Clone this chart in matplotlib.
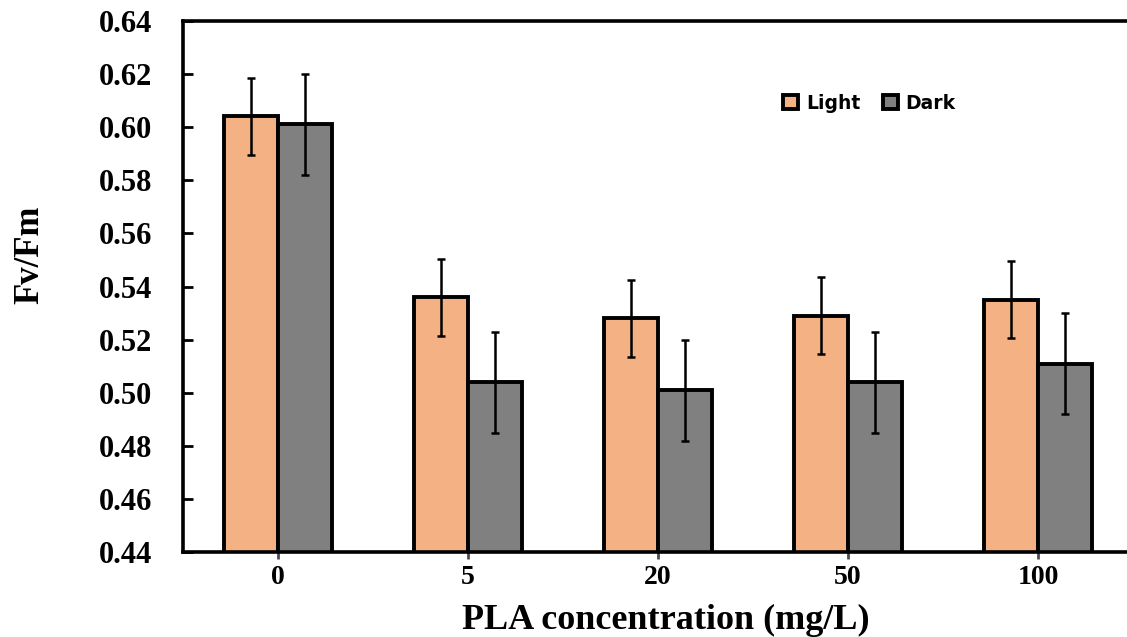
import numpy as np
import matplotlib
matplotlib.use('Agg')
import matplotlib.pyplot as plt

# 数据
concentrations = ['0', '5', '20', '50', '100']
light_mean = [0.604, 0.536, 0.528, 0.529, 0.535]
light_err = [0.0145, 0.0145, 0.0145, 0.0145, 0.0145]
dark_mean = [0.601, 0.504, 0.501, 0.504, 0.511]
dark_err = [0.019, 0.019, 0.019, 0.019, 0.019]

light_color = '#F4B183'
dark_color = '#808080'
bar_w = 0.284

fig = plt.figure(figsize=(11.27, 6.37), dpi=100)
ax = fig.add_axes([0.1624, 0.1327, 0.843, 0.835])

x = np.arange(len(concentrations))

# 画柱状图
ax.bar(x - bar_w / 2, light_mean, bar_w, color=light_color, edgecolor='black',
       linewidth=2.8, label='Light', zorder=2)
ax.bar(x + bar_w / 2, dark_mean, bar_w, color=dark_color, edgecolor='black',
       linewidth=2.8, label='Dark', zorder=2)

# 误差线
ax.errorbar(x - bar_w / 2, light_mean, yerr=light_err, fmt='none', ecolor='black',
            elinewidth=1.8, capsize=3, capthick=1.8, zorder=3)
ax.errorbar(x + bar_w / 2, dark_mean, yerr=dark_err, fmt='none', ecolor='black',
            elinewidth=1.8, capsize=3, capthick=1.8, zorder=3)

ax.set_xlim(-0.5, 4.5)
ax.set_ylim(0.44, 0.64)
yt = np.arange(0.44, 0.641, 0.02)
ax.set_yticks(yt)
ax.set_yticklabels(['%.2f' % v for v in yt])
ax.set_xticks(x)
ax.set_xticklabels(concentrations)

# 坐标轴样式
for side in ['left', 'bottom', 'top']:
    ax.spines[side].set_linewidth(2.6)
ax.spines['right'].set_visible(False)

serif = ['Liberation Serif', 'DejaVu Serif']
ax.tick_params(axis='y', direction='in', length=7, width=2, pad=22)
ax.tick_params(axis='x', direction='out', length=5, width=2, color='0.3', pad=4)
for lab in ax.get_yticklabels():
    lab.set_fontfamily(serif)
    lab.set_fontweight('bold')
    lab.set_fontsize(22)
for lab in ax.get_xticklabels():
    lab.set_fontfamily(serif)
    lab.set_fontweight('bold')
    lab.set_fontsize(20)

ax.set_xlabel('PLA concentration (mg/L)', fontsize=26, fontweight='bold',
              family=serif, va='baseline')
ax.xaxis.set_label_coords(0.508, -0.1435)
ax.set_ylabel('Fv/Fm', fontsize=25, fontweight='bold', family=serif, va='center')
ax.yaxis.set_label_coords(-0.161, 0.56)

# 图例
ax.legend(loc='center left', bbox_to_anchor=(0.632, 0.845), ncol=2, frameon=False,
          prop={'family': 'DejaVu Sans', 'weight': 'bold', 'size': 13.5},
          handlelength=0.8, handleheight=0.8, handletextpad=0.4,
          columnspacing=1.2, borderpad=0, borderaxespad=0)

fig.savefig('out.png', dpi=100)
